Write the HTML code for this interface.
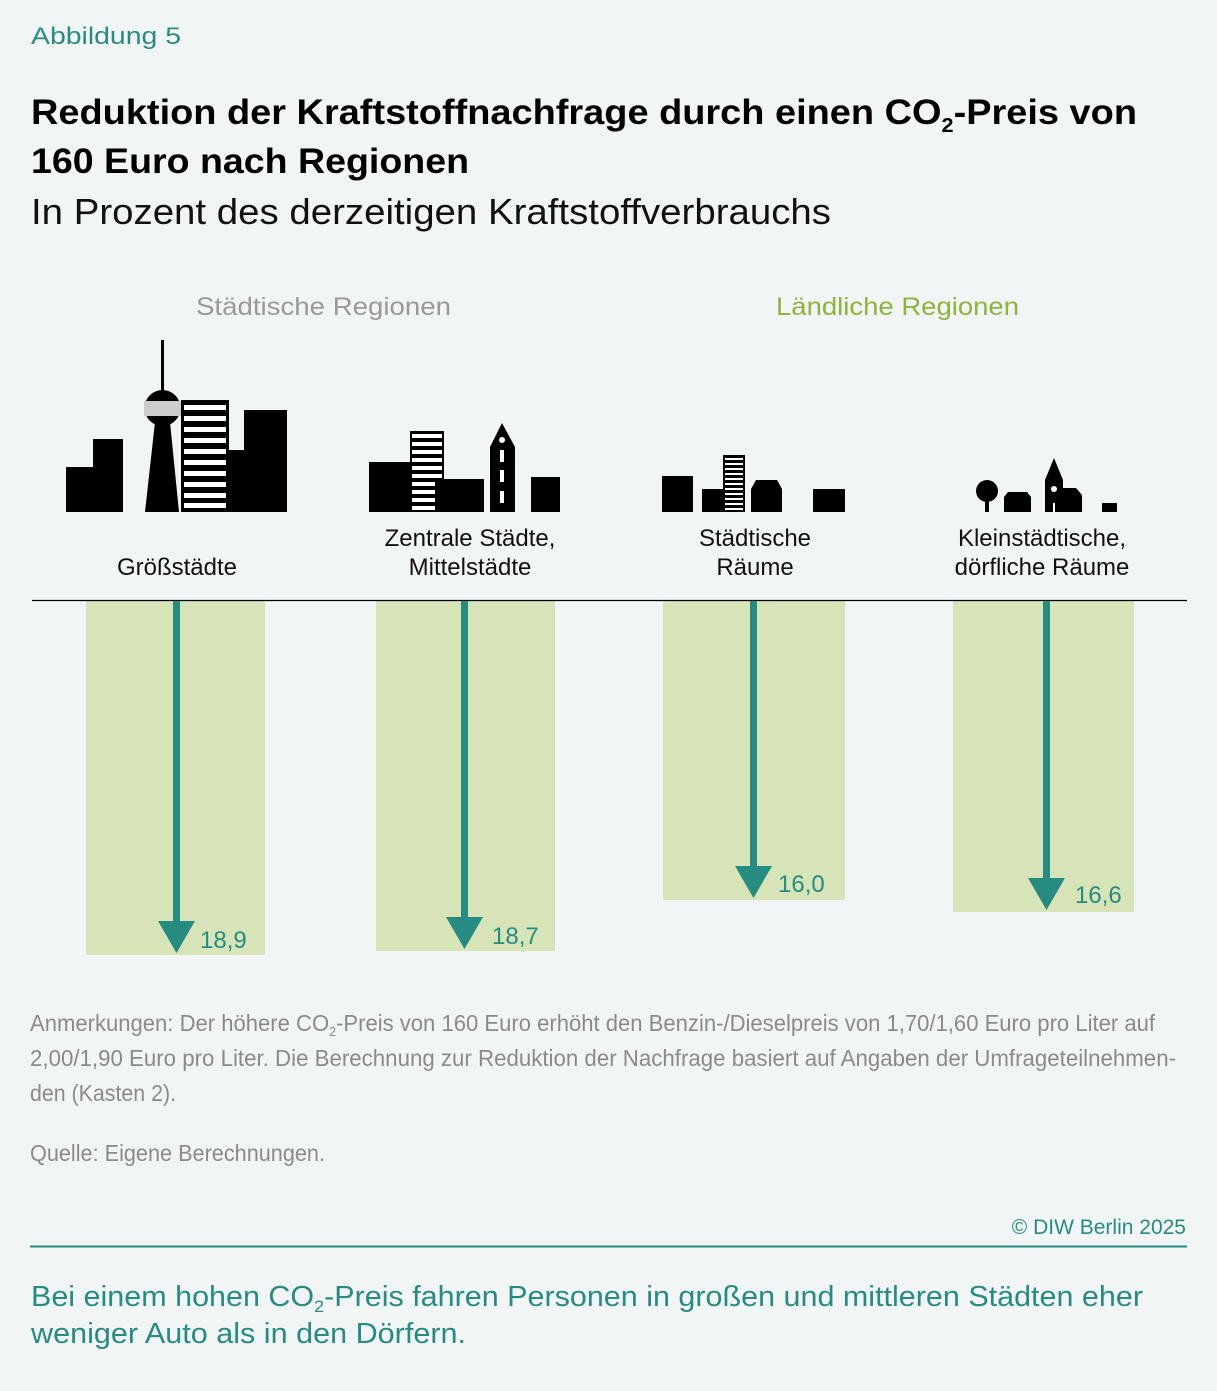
<!DOCTYPE html>
<html><head><meta charset="utf-8"><style>
html,body{margin:0;padding:0;background:#f2f5f6;}
svg{display:block;font-family:"Liberation Sans","DejaVu Sans",sans-serif;}
</style></head><body>
<svg width="1217" height="1391" viewBox="0 0 1217 1391" xmlns="http://www.w3.org/2000/svg">
<rect width="1217" height="1391" fill="#f2f5f6"/>
<text x="31" y="44" font-size="24" fill="#2a8c80" textLength="150" lengthAdjust="spacingAndGlyphs">Abbildung 5</text>
<text x="31" y="124" font-size="35" font-weight="bold" fill="#000" textLength="1106" lengthAdjust="spacingAndGlyphs">Reduktion der Kraftstoffnachfrage durch einen CO<tspan font-size="20" dy="8">2</tspan><tspan dy="-8">-Preis von</tspan></text>
<text x="31" y="173" font-size="35" font-weight="bold" fill="#000" textLength="438" lengthAdjust="spacingAndGlyphs">160 Euro nach Regionen</text>
<text x="31" y="224" font-size="36" fill="#111" textLength="800" lengthAdjust="spacingAndGlyphs">In Prozent des derzeitigen Kraftstoffverbrauchs</text>

<text x="196" y="315" font-size="25" fill="#999" textLength="255" lengthAdjust="spacingAndGlyphs">Städtische Regionen</text>
<text x="776" y="315" font-size="25" fill="#8db33a" textLength="243" lengthAdjust="spacingAndGlyphs">Ländliche Regionen</text>

<!-- Großstädte icon -->
<g fill="#000">
<rect x="66" y="467" width="28" height="45"/>
<rect x="93" y="439" width="30" height="73"/>
<rect x="161" y="340" width="3" height="55"/>
<circle cx="162.5" cy="408" r="18"/>
<rect x="144" y="401" width="37" height="15" fill="#ccc"/>
<polygon points="145,512 179,512 170,422 155,422"/>
<rect x="181" y="400" width="48" height="112"/>
<rect x="228" y="450" width="20" height="62"/>
<rect x="244" y="410" width="43" height="102"/>
</g>
<g fill="#fff">
<rect x="184" y="405" width="42" height="5"/><rect x="184" y="416" width="42" height="5"/><rect x="184" y="427" width="42" height="5"/><rect x="184" y="438" width="42" height="5"/><rect x="184" y="449" width="42" height="5"/><rect x="184" y="460" width="42" height="5"/><rect x="184" y="471" width="42" height="5"/><rect x="184" y="482" width="42" height="5"/><rect x="184" y="493" width="42" height="5"/><rect x="184" y="503" width="42" height="5"/>
</g>
<!-- Zentrale -->
<g fill="#000">
<rect x="369" y="462" width="42" height="50"/>
<rect x="410" y="431" width="34" height="81"/>
<rect x="443" y="479" width="41" height="33"/>
<polygon points="490,512 515,512 515,447 502,423 490,447"/>
<rect x="531" y="477" width="29" height="35"/>
</g>
<g fill="#fff">
<rect x="412" y="434" width="30" height="4"/><rect x="412" y="442" width="30" height="4"/><rect x="412" y="450" width="30" height="4"/><rect x="412" y="458" width="30" height="4"/><rect x="412" y="466" width="30" height="4"/><rect x="412" y="474" width="30" height="4"/>
<rect x="412" y="482" width="23" height="4"/><rect x="412" y="490" width="23" height="4"/><rect x="412" y="498" width="23" height="4"/><rect x="412" y="506" width="23" height="4"/>
<circle cx="502" cy="440" r="3"/><rect x="500" y="450" width="4" height="12"/><rect x="500" y="470" width="4" height="12"/><rect x="500" y="491" width="4" height="12"/>
</g>
<!-- Städtische Räume -->
<g fill="#000">
<rect x="662" y="476" width="31" height="36"/>
<rect x="702" y="489" width="22" height="23"/>
<rect x="723" y="455" width="22" height="57"/>
<polygon points="751,512 782,512 782,489 777,480 756,480 751,489"/>
<rect x="813" y="489" width="32" height="23"/>
</g>
<g fill="#fff">
<rect x="725" y="458" width="18" height="2"/><rect x="725" y="463" width="18" height="2"/><rect x="725" y="468" width="18" height="2"/><rect x="725" y="473" width="18" height="2"/><rect x="725" y="478" width="18" height="2"/><rect x="725" y="483" width="18" height="2"/><rect x="725" y="488" width="18" height="2"/><rect x="725" y="493" width="18" height="2"/><rect x="725" y="498" width="18" height="2"/><rect x="725" y="503" width="18" height="2"/><rect x="725" y="508" width="18" height="2"/>
</g>
<!-- Kleinstädtische -->
<g fill="#000">
<circle cx="987" cy="491" r="11"/>
<rect x="985" y="495" width="4" height="17"/>
<polygon points="1004,512 1031,512 1031,497 1027,492 1008,492 1004,497"/>
<polygon points="1045,512 1063,512 1063,480 1054,458 1045,480"/>
<polygon points="1063,512 1082,512 1082,495 1076,488 1063,488"/>
<rect x="1102" y="503" width="15" height="9"/>
</g>
<circle cx="1054" cy="489" r="3" fill="#fff"/>
<rect x="1053" y="503" width="2" height="9" fill="#fff"/>

<g font-size="24" fill="#111" text-anchor="middle">
<text x="177" y="575">Größstädte</text>
<text x="470" y="546">Zentrale Städte,</text>
<text x="470" y="575">Mittelstädte</text>
<text x="755" y="546">Städtische</text>
<text x="755" y="575">Räume</text>
<text x="1042" y="546">Kleinstädtische,</text>
<text x="1042" y="575">dörfliche Räume</text>
</g>

<g fill="#d6e4b8">
<rect x="86" y="601" width="179" height="354"/>
<rect x="376" y="601" width="179" height="350"/>
<rect x="663" y="601" width="182" height="299"/>
<rect x="953" y="601" width="181" height="311"/>
</g>
<line x1="32" y1="600.5" x2="1187" y2="600.5" stroke="#000" stroke-width="1.3"/>
<g fill="#268c82">
<rect x="173" y="601" width="7" height="322"/><polygon points="158,921 195,921 176.5,953"/>
<rect x="461" y="601" width="7" height="318"/><polygon points="446,917 483,917 464.5,949"/>
<rect x="750" y="601" width="7" height="267"/><polygon points="735,866 772,866 753.5,898"/>
<rect x="1043" y="601" width="7" height="279"/><polygon points="1028,878 1065,878 1046.5,910"/>
</g>
<g font-size="24" fill="#268c82">
<text x="200" y="948">18,9</text>
<text x="492" y="944">18,7</text>
<text x="778" y="892">16,0</text>
<text x="1075" y="903">16,6</text>
</g>

<g font-size="23" fill="#8a8a8a" font-family="Liberation Sans Narrow, Liberation Sans, sans-serif">
<text x="30" y="1031" textLength="1125" lengthAdjust="spacingAndGlyphs">Anmerkungen: Der höhere CO<tspan font-size="13" dy="5">2</tspan><tspan dy="-5">-Preis von 160 Euro erhöht den Benzin-/Dieselpreis von 1,70/1,60 Euro pro Liter auf</tspan></text>
<text x="30" y="1066" textLength="1146" lengthAdjust="spacingAndGlyphs">2,00/1,90 Euro pro Liter. Die Berechnung zur Reduktion der Nachfrage basiert auf Angaben der Umfrageteilnehmen-</text>
<text x="30" y="1101" textLength="146" lengthAdjust="spacingAndGlyphs">den (Kasten 2).</text>
<text x="30" y="1161" textLength="295" lengthAdjust="spacingAndGlyphs">Quelle: Eigene Berechnungen.</text>
</g>
<text x="1186" y="1234" font-size="21" fill="#268c82" text-anchor="end">© DIW Berlin 2025</text>
<line x1="30" y1="1246.5" x2="1187" y2="1246.5" stroke="#268c82" stroke-width="2"/>
<text x="31" y="1306" font-size="29" fill="#268c82" textLength="1112" lengthAdjust="spacingAndGlyphs">Bei einem hohen CO<tspan font-size="17" dy="6">2</tspan><tspan dy="-6">-Preis fahren Personen in großen und mittleren Städten eher</tspan></text>
<text x="31" y="1343" font-size="29" fill="#268c82" textLength="435" lengthAdjust="spacingAndGlyphs">weniger Auto als in den Dörfern.</text>
</svg>
</body></html>
